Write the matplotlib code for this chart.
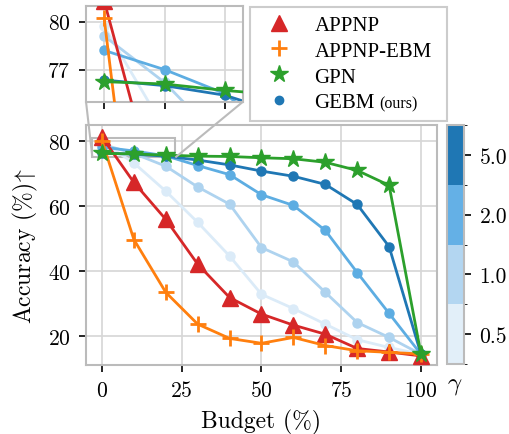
import matplotlib
matplotlib.use('Agg')
import matplotlib.pyplot as plt
from matplotlib.colors import ListedColormap, BoundaryNorm
from matplotlib.cm import ScalarMappable
from matplotlib.lines import Line2D
from mpl_toolkits.axes_grid1.inset_locator import mark_inset

plt.rcParams['font.family'] = 'serif'
plt.rcParams['font.serif'] = ['cmr10']
plt.rcParams['mathtext.fontset'] = 'cm'
plt.rcParams['axes.formatter.use_mathtext'] = True

# data
budget = [0, 10, 20, 30, 40, 50, 60, 70, 80, 90, 100]
appnp = [81.3, 67.3, 55.9, 42.1, 31.8, 26.7, 23.3, 20.5, 16.1, 15.0, 13.8]
appnp_ebm = [80.2, 49.7, 33.4, 23.6, 19.2, 17.7, 19.5, 17.0, 15.4, 14.9, 14.4]
gpn = [76.25, 76.1, 75.7, 75.4, 75.3, 74.9, 74.6, 73.5, 71.0, 66.4, 14.3]
gebm_05 = [79.7, 73.3, 64.6, 55.0, 44.6, 32.8, 28.4, 23.6, 18.8, 16.4, 14.3]
gebm_10 = [79.1, 76.2, 72.3, 65.9, 60.6, 47.2, 42.8, 33.4, 24.1, 19.5, 14.3]
gebm_20 = [78.2, 77.0, 75.5, 72.5, 69.7, 63.5, 60.2, 52.5, 39.5, 26.9, 14.3]
gebm_50 = [76.35, 76.0, 75.4, 74.2, 72.7, 70.8, 69.2, 66.7, 60.5, 47.5, 14.3]
gebm = [gebm_05, gebm_10, gebm_20, gebm_50]
gammas = ['0.5', '1.0', '2.0', '5.0']

gamma_colors = ['#dbebf8', '#aed3ef', '#5dade2', '#1f77b4']
bar_colors = ['#e2eff9', '#b3d6f1', '#64b0e6', '#1f77b4']
gray = '#bbbbbb'

fig = plt.figure(figsize=(5.09, 4.35), dpi=100)
ax = fig.add_axes([0.169, 0.1586, 0.6895, 0.5517])
axins = fig.add_axes([0.169, 0.764, 0.3085, 0.221])
cax = fig.add_axes([0.8776, 0.1609, 0.0346, 0.5494])


def draw(a):
    for vals, c in zip(gebm, gamma_colors):
        a.plot(budget, vals, '-o', color=c, lw=2, ms=6.5, zorder=2)
    a.plot(budget, appnp, '-^', color='#d62728', lw=2, ms=11, zorder=3)
    a.plot(budget, appnp_ebm, '-+', color='#ff7f0e', lw=2, ms=12, mew=2, zorder=4)
    a.plot(budget, gpn, '-*', color='#2ca02c', lw=2, ms=13, zorder=5)
    a.grid(True, color='#d6d6d6', lw=1.2)
    a.set_axisbelow(True)
    for s in a.spines.values():
        s.set_color(gray)
        s.set_linewidth(1.5)
    a.tick_params(length=5, width=1.2, labelsize=15.5, pad=6)


draw(ax)
ax.set_xlim(-5, 105)
ax.set_ylim(11, 85)
ax.set_xticks([0, 25, 50, 75, 100])
ax.set_yticks([20, 40, 60, 80])
ax.set_xlabel('Budget (%)', fontsize=17, labelpad=6)
ax.set_ylabel(r'Accuracy (%)$\!\uparrow$', fontsize=17, labelpad=6)

draw(axins)
axins.set_xlim(-3, 23)
axins.set_ylim(75, 81)
axins.set_xticks([0, 10, 20])
axins.set_xticklabels([])
axins.set_yticks([77, 80])
mark_inset(ax, axins, loc1=3, loc2=4, fc='none', ec=gray, lw=1.5)

# colorbar for gamma
cmap = ListedColormap(bar_colors)
norm = BoundaryNorm([0, 1, 2, 3, 4], 4)
cb = fig.colorbar(ScalarMappable(norm=norm, cmap=cmap), cax=cax, ticks=[0.5, 1.5, 2.5, 3.5])
cb.ax.set_yticklabels(gammas)
cb.outline.set_edgecolor(gray)
cb.outline.set_linewidth(1.5)
cb.ax.tick_params(length=5, width=1.2, labelsize=15.5, pad=6)
fig.text(455 / 509, 1 - 386 / 435, r'$\gamma$', fontsize=18, ha='center', va='center')

handles = [
    Line2D([], [], ls='none', marker='^', color='#d62728', ms=11),
    Line2D([], [], ls='none', marker='+', color='#ff7f0e', ms=12, mew=2),
    Line2D([], [], ls='none', marker='*', color='#2ca02c', ms=13),
    Line2D([], [], ls='none', marker='o', color='#1f77b4', ms=6),
]
leg = fig.legend(handles, ['APPNP', 'APPNP-EBM', 'GPN', 'GEBM'],
                 loc='upper left', bbox_to_anchor=(250 / 509, 1 - 117 / 435, 197 / 509, 109 / 435),
                 mode='expand', borderaxespad=0, prop={'family': 'Liberation Serif', 'size': 15},
                 fancybox=False, edgecolor='#cccccc', framealpha=1, labelspacing=0.3,
                 handletextpad=0.7)
leg.get_frame().set_linewidth(1.5)

fig.canvas.draw()
bb = leg.get_texts()[3].get_window_extent()
x, y = fig.transFigure.inverted().transform((bb.x1 + 4, bb.y0 + 5))
fig.text(x, y, '(ours)', fontsize=11.5, family='Liberation Serif', ha='left', va='baseline', zorder=10)

fig.savefig('out.png', dpi=100)
